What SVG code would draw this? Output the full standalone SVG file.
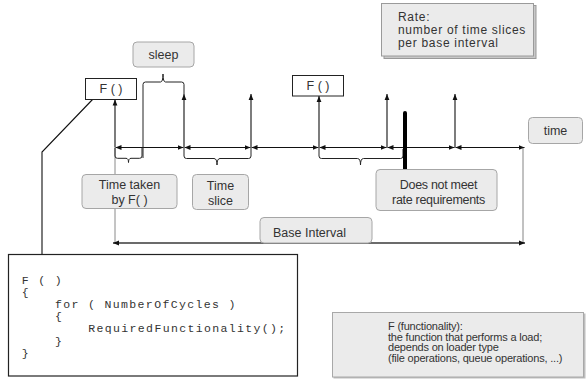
<svg xmlns="http://www.w3.org/2000/svg" width="586" height="380" viewBox="0 0 586 380">
<style>
.lbl{font-family:"Liberation Sans",Arial,sans-serif;font-size:12.5px;fill:#333;}
.fbox{fill:#fff;stroke:#222;stroke-width:1;}
.gbox{fill:#ebebeb;stroke:#a6a6a6;stroke-width:1;}
.code{font-family:"Liberation Mono","Courier New",monospace;font-size:11.5px;letter-spacing:1.36px;fill:#333;}
.note{font-family:"Liberation Sans",Arial,sans-serif;fill:#333;}
.ln{fill:none;stroke:#111;stroke-width:1.1;}
.br{fill:none;stroke:#222;stroke-width:1;}
</style>
<defs>
<marker id="ah" viewBox="0 0 6 6" refX="6" refY="3" markerWidth="6" markerHeight="6" orient="auto-start-reverse" markerUnits="userSpaceOnUse"><path d="M0,0.6 L6,3 L0,5.4 z" fill="#111"/></marker>
</defs>

<g id="connectors">
  <line x1="115" y1="148" x2="115" y2="243" stroke="#8a8a8a" stroke-width="1"/>
  <line x1="523" y1="148" x2="523" y2="243" stroke="#666" stroke-width="0.8"/>
  <line x1="113" y1="243" x2="525" y2="243" stroke="#3a3a3a" stroke-width="1.6" marker-start="url(#ah)" marker-end="url(#ah)"/>
  <line class="ln" x1="115.5" y1="147.5" x2="183.5" y2="147.5" marker-start="url(#ah)" marker-end="url(#ah)"/>
  <line class="ln" x1="184.5" y1="147.5" x2="250.5" y2="147.5" marker-start="url(#ah)" marker-end="url(#ah)"/>
  <line class="ln" x1="251.5" y1="147.5" x2="318.5" y2="147.5" marker-start="url(#ah)" marker-end="url(#ah)"/>
  <line class="ln" x1="319.5" y1="147.5" x2="386.5" y2="147.5" marker-start="url(#ah)" marker-end="url(#ah)"/>
  <line class="ln" x1="387.5" y1="147.5" x2="454.5" y2="147.5" marker-start="url(#ah)" marker-end="url(#ah)"/>
  <line class="ln" x1="455.5" y1="147.5" x2="524.5" y2="147.5" marker-start="url(#ah)" marker-end="url(#ah)"/>
  <line class="ln" x1="115" y1="147.5" x2="115" y2="99.5" marker-end="url(#ah)"/>
  <line class="ln" x1="184" y1="147.5" x2="184" y2="94" marker-end="url(#ah)"/>
  <line class="ln" x1="251" y1="147.5" x2="251" y2="94" marker-end="url(#ah)"/>
  <line class="ln" x1="319" y1="147.5" x2="319" y2="96" marker-end="url(#ah)"/>
  <line class="ln" x1="387" y1="147.5" x2="387" y2="94" marker-end="url(#ah)"/>
  <line class="ln" x1="455" y1="147.5" x2="455" y2="94" marker-end="url(#ah)"/>
  <path class="br" d="M115,148 V156 Q115,158.3 117.5,158.3 H126 Q128.5,158.3 128.5,162.5 Q128.5,158.3 131,158.3 H139.5 Q142,158.3 142,156 V148"/>
  <path class="br" d="M143,158 V84.5 Q143,82 145.5,82 H160.5 Q163,82 163,74 Q163,82 165.5,82 H181.5 Q184,82 184,84.5 V94"/>
  <path class="br" d="M184,148 V156 Q184,158.5 186.5,158.5 H214 Q217,158.5 217,165 Q217,158.5 220,158.5 H248.5 Q251,158.5 251,156 V148"/>
  <path class="br" d="M319,148 V156 Q319,158.5 321.5,158.5 H357.5 Q360.5,158.5 360.5,165 Q360.5,158.5 363.5,158.5 H400.5 Q403,158.5 403,156 V149"/>
  <line x1="405" y1="113" x2="405" y2="169" stroke="#000" stroke-width="4" stroke-linecap="round"/>
  <polyline class="ln" points="93,99 42,152 42,254"/>
</g>

<g id="f1">
  <rect class="fbox" x="85.5" y="78.5" width="51" height="21"/>
  <text class="lbl" x="111" y="92.5" text-anchor="middle">F ( )</text>
</g>
<g id="f2">
  <rect class="fbox" x="292.5" y="75.5" width="51" height="20.5"/>
  <text class="lbl" x="318" y="89.5" text-anchor="middle">F ( )</text>
</g>
<g id="sleep">
  <rect class="gbox" x="133" y="42" width="61" height="25" rx="4"/>
  <text class="lbl" x="163.5" y="58.5" text-anchor="middle">sleep</text>
</g>
<g id="time-taken">
  <rect class="gbox" x="82" y="174.5" width="95" height="34" rx="4"/>
  <text class="lbl" x="129.5" y="188.5" text-anchor="middle">Time taken</text>
  <text class="lbl" x="129.5" y="203.5" text-anchor="middle">by F( )</text>
</g>
<g id="time-slice">
  <rect class="gbox" x="192.5" y="174.5" width="56" height="35" rx="4"/>
  <text class="lbl" x="220.5" y="189.5" text-anchor="middle">Time</text>
  <text class="lbl" x="220.5" y="205" text-anchor="middle">slice</text>
</g>
<g id="does-not-meet">
  <rect class="gbox" x="376" y="169.5" width="121" height="41" rx="4"/>
  <text class="lbl" x="438.5" y="188.5" text-anchor="middle" letter-spacing="-0.3">Does not meet</text>
  <text class="lbl" x="438.5" y="204" text-anchor="middle" letter-spacing="-0.3">rate requirements</text>
</g>
<g id="time">
  <rect class="gbox" x="528.5" y="117.5" width="54" height="26" rx="4"/>
  <text class="lbl" x="555.5" y="135" text-anchor="middle">time</text>
</g>
<g id="base-interval">
  <rect class="gbox" x="260" y="217.5" width="112" height="25.5" rx="4"/>
  <text class="lbl" x="273" y="236.5">Base Interval</text>
</g>
<g id="rate">
  <rect x="384" y="5.5" width="152" height="53" fill="#c8c8c8" stroke="#999" stroke-width="1"/>
  <rect x="381.5" y="3.5" width="152" height="52.5" fill="#ebebeb" stroke="#9a9a9a" stroke-width="1"/>
  <text class="note" font-size="12" letter-spacing="0.7" x="398" y="20.8">Rate:</text>
  <text class="note" font-size="12" letter-spacing="0.7" x="398" y="34">number of time slices</text>
  <text class="note" font-size="12" letter-spacing="0.7" x="398" y="47.2">per base interval</text>
</g>
<g id="functionality">
  <rect x="333.5" y="313.5" width="252" height="65" fill="#bdbdbd" stroke="none"/>
  <rect x="332.5" y="312.5" width="251" height="64.5" fill="#ebebeb" stroke="#a8a8a8" stroke-width="1"/>
  <text class="note" font-size="11" x="388" y="330" letter-spacing="-0.2">F (functionality):</text>
  <text class="note" font-size="11" x="388" y="340.7" letter-spacing="-0.2">the function that performs a load;</text>
  <text class="note" font-size="11" x="388" y="351.4" letter-spacing="-0.2">depends on loader type</text>
  <text class="note" font-size="11" x="388" y="362.1" letter-spacing="-0.2">(file operations, queue operations, ...)</text>
</g>
<g id="code">
  <rect x="8.5" y="254.5" width="289" height="121.5" fill="#fff" stroke="#222" stroke-width="1.2"/>
  <text class="code" x="21.7" y="283.5" xml:space="preserve">F ( )</text>
  <text class="code" x="21.7" y="295.7">{</text>
  <text class="code" x="55" y="308" xml:space="preserve">for ( NumberOfCycles )</text>
  <text class="code" x="55" y="320.2">{</text>
  <text class="code" x="88.3" y="332.4">RequiredFunctionality();</text>
  <text class="code" x="55" y="344.6">}</text>
  <text class="code" x="21.7" y="356.8">}</text>
</g>
</svg>
